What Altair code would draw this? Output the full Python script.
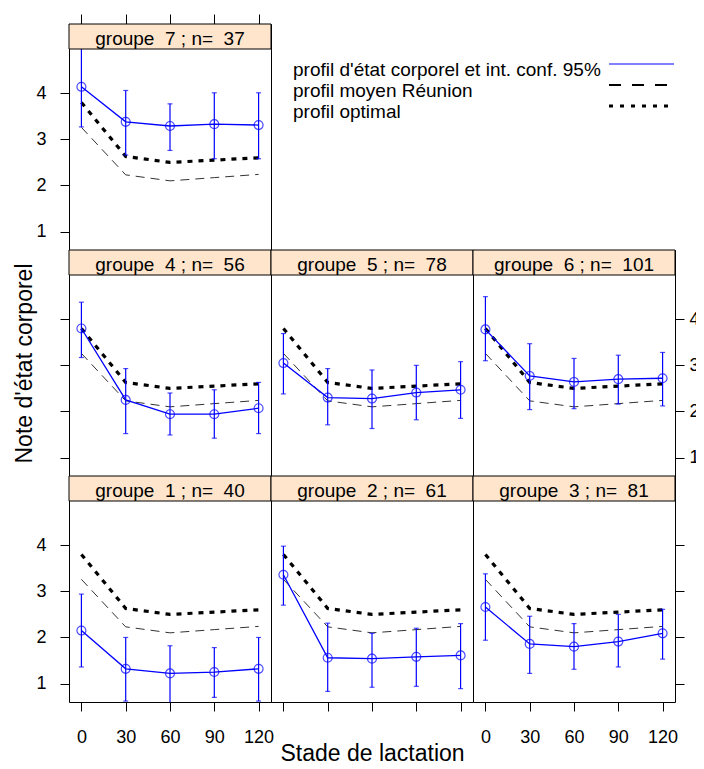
import altair as alt
import pandas as pd

# ---------------- data ----------------
stades = [0, 30, 60, 90, 120]
profil_optimal = [3.80, 2.63, 2.50, 2.55, 2.60]
profil_moyen = [3.26, 2.23, 2.10, 2.17, 2.24]

groupes = [7, 4, 5, 6, 1, 2, 3]
effectifs = [37, 56, 78, 101, 40, 61, 81]

moy_g1 = [2.15, 1.32, 1.22, 1.25, 1.32]
inf_g1 = [1.36, 0.62, 0.55, 0.70, 0.62]
sup_g1 = [2.94, 2.00, 1.82, 1.78, 2.00]

moy_g2 = [3.36, 1.56, 1.54, 1.58, 1.61]
inf_g2 = [2.70, 0.83, 0.92, 0.94, 0.89]
sup_g2 = [3.98, 2.31, 2.09, 2.20, 2.30]

moy_g3 = [2.66, 1.86, 1.80, 1.91, 2.09]
inf_g3 = [1.94, 1.22, 1.31, 1.36, 1.53]
sup_g3 = [3.38, 2.46, 2.30, 2.50, 2.61]

moy_g4 = [3.80, 2.25, 1.94, 1.94, 2.07]
inf_g4 = [3.17, 1.52, 1.49, 1.42, 1.52]
sup_g4 = [4.37, 2.93, 2.40, 2.47, 2.63]

moy_g5 = [3.05, 2.30, 2.28, 2.41, 2.47]
inf_g5 = [2.38, 1.71, 1.63, 1.82, 1.85]
sup_g5 = [3.69, 2.93, 2.90, 3.00, 3.08]

moy_g6 = [3.78, 2.77, 2.64, 2.70, 2.72]
inf_g6 = [3.10, 2.04, 2.06, 2.16, 2.12]
sup_g6 = [4.49, 3.47, 3.15, 3.22, 3.28]

moy_g7 = [4.14, 3.38, 3.29, 3.33, 3.31]
inf_g7 = [3.27, 2.66, 2.76, 2.58, 2.58]
sup_g7 = [5.01, 4.06, 3.77, 4.01, 4.01]

legend_labels = [
    "profil d'état corporel et int. conf. 95%",
    "profil moyen Réunion",
    "profil optimal",
]
y_ticks = [1, 2, 3, 4]

series = {
    1: (moy_g1, inf_g1, sup_g1),
    2: (moy_g2, inf_g2, sup_g2),
    3: (moy_g3, inf_g3, sup_g3),
    4: (moy_g4, inf_g4, sup_g4),
    5: (moy_g5, inf_g5, sup_g5),
    6: (moy_g6, inf_g6, sup_g6),
    7: (moy_g7, inf_g7, sup_g7),
}

ref_df = pd.DataFrame({"stade": stades, "optimal": profil_optimal, "moyen": profil_moyen})

# ---------------- layout constants ----------------
W = 202
H = 226
STRIP = 25
FONT = "Liberation Sans"
BLUE = "#0000FF"

xscale = alt.Scale(domain=[-8.4, 128.4], nice=False, zero=False)
yscale = alt.Scale(domain=[0.6, 5.502], nice=False, zero=False)

common = dict(domain=False, grid=False, tickColor="black", tickWidth=1,
              labelColor="black", labelFontSize=18, labelFont=FONT,
              labelFlush=False, labelOverlap=False)

y_left_labels = alt.Axis(orient="left", values=y_ticks, tickSize=9, labelPadding=14, title=None, **common)
y_left_title = alt.Axis(orient="left", values=y_ticks, tickSize=9, labels=False,
                        title="Note d'état corporel", titleFontSize=23, titleFont=FONT,
                        titleFontWeight="normal", titleColor="black", titlePadding=23, **common)
y_right_labels = alt.Axis(orient="right", values=y_ticks, tickSize=9, labelPadding=5, title=None, **common)
y_right_ticks = alt.Axis(orient="right", values=y_ticks, tickSize=9, labels=False, title=None, **common)
x_top_ticks = alt.Axis(orient="top", values=stades, tickSize=10, labels=False, title=None, **common)
x_bottom_labels = alt.Axis(orient="bottom", values=stades, tickSize=9, labelPadding=17, title=None, **common)
x_bottom_title = alt.Axis(orient="bottom", values=stades, tickSize=9, labels=False,
                          title="Stade de lactation", titleFontSize=23, titleFont=FONT,
                          titleFontWeight="normal", titleColor="black", titlePadding=31, **common)


def panel(g, n, xaxis=None, yaxis=None):
    m, lo, hi = series[g]
    d = pd.DataFrame({"stade": stades, "moy": m, "inf": lo, "sup": hi})
    X = alt.X("stade:Q", scale=xscale, axis=xaxis)

    def Y(f):
        return alt.Y(f + ":Q", scale=yscale, axis=yaxis)

    ref = alt.Chart(ref_df)
    base = alt.Chart(d)
    l_moy = ref.mark_line(color="#333333", strokeWidth=1, strokeDash=[9, 6], clip=True).encode(x=X, y=Y("moyen"))
    l_opt = ref.mark_line(color="black", strokeWidth=3.2, strokeDash=[5, 6], clip=True).encode(x=X, y=Y("optimal"))
    bars = base.mark_rule(color=BLUE, strokeWidth=1.2, clip=True).encode(x=X, y=Y("inf"), y2="sup:Q")
    cap_lo = base.mark_tick(color=BLUE, orient="horizontal", size=5, thickness=1.2, clip=True).encode(x=X, y=Y("inf"))
    cap_hi = base.mark_tick(color=BLUE, orient="horizontal", size=5, thickness=1.2, clip=True).encode(x=X, y=Y("sup"))
    line = base.mark_line(color=BLUE, strokeWidth=1.3, clip=True).encode(x=X, y=Y("moy"))
    pts = base.mark_point(color=BLUE, shape="circle", filled=False, size=80, strokeWidth=1.2, clip=True).encode(x=X, y=Y("moy"))

    lab = pd.DataFrame({"lab": [f"groupe \u00a0{g} ; n= \u00a0{n}"]})
    rect = alt.Chart(lab).mark_rect(fill="#FFE5CC", stroke="black", strokeWidth=1).encode(
        x=alt.value(0), x2=alt.value(W), y=alt.value(0), y2=alt.value(STRIP))
    txt = alt.Chart(lab).mark_text(font=FONT, fontSize=19, baseline="alphabetic", color="black").encode(
        x=alt.value(W / 2), y=alt.value(21), text="lab:N")
    return alt.layer(l_moy, l_opt, bars, cap_lo, cap_hi, line, pts, rect, txt).properties(width=W, height=H)


n_of = dict(zip(groupes, effectifs))

p7 = panel(7, n_of[7], xaxis=x_top_ticks, yaxis=y_left_labels)
p4 = panel(4, n_of[4], yaxis=y_left_title)
p5 = panel(5, n_of[5])
p6 = panel(6, n_of[6], yaxis=y_right_labels)
p1 = panel(1, n_of[1], xaxis=x_bottom_labels, yaxis=y_left_labels)
p2 = panel(2, n_of[2], xaxis=x_bottom_title)
p3 = panel(3, n_of[3], xaxis=x_bottom_labels, yaxis=y_right_ticks)

# ---------------- legend ----------------
leg_df = pd.DataFrame({"lab": legend_labels})
leg_y = alt.Y("lab:N", scale=alt.Scale(type="point", domain=legend_labels, range=[40, 82], padding=0), axis=None)
leg_txt = alt.Chart(leg_df).mark_text(font=FONT, fontSize=19, align="left", baseline="middle", dy=6, color="black").encode(
    x=alt.value(22), y=leg_y, text="lab:N")
leg_rule = alt.Chart(leg_df).mark_rule().encode(
    x=alt.value(338), x2=alt.value(403), y=leg_y,
    color=alt.Color("lab:N", scale=alt.Scale(domain=legend_labels, range=[BLUE, "black", "black"]), legend=None),
    strokeDash=alt.StrokeDash("lab:N", scale=alt.Scale(domain=legend_labels, range=[[1, 0], [12, 11], [4, 7]]), legend=None),
    strokeWidth=alt.StrokeWidth("lab:N", scale=alt.Scale(domain=legend_labels, range=[1.2, 3, 2.5]), legend=None),
)
legend = alt.layer(leg_rule, leg_txt).properties(width=W, height=H, view=alt.ViewBackground(stroke=None))

blank = alt.Chart(pd.DataFrame({"a": [0]})).mark_point(opacity=0, size=1).encode(
    x=alt.value(1), y=alt.value(100)).properties(width=W, height=H, view=alt.ViewBackground(stroke=None))

chart = alt.concat(p7, legend, blank, p4, p5, p6, p1, p2, p3, columns=3, spacing=0, bounds="flush").properties(
    padding={"left": 5, "top": 5, "right": -4, "bottom": -4}
).configure(font=FONT).configure_view(stroke="black", strokeWidth=1)

chart.save("out.html", embed_options={"renderer": "svg", "actions": False})
